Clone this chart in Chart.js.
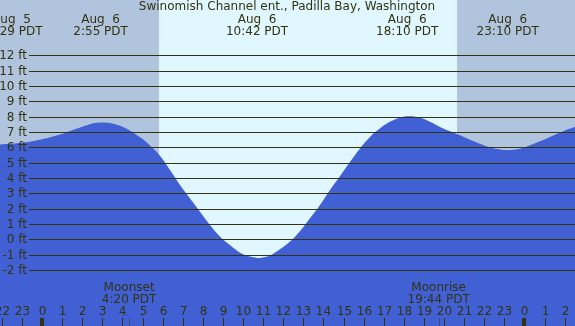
<!DOCTYPE html>
<html>
<head>
<meta charset="utf-8">
<script src="https://cdn.jsdelivr.net/npm/chart.js@4"></script>
<style>
  html, body { margin: 0; padding: 0; background: #b0c4de; overflow: hidden; }
  canvas { display: block; }
</style>
</head>
<body>
<canvas id="tide" width="575" height="326"></canvas>
<script>
// ---- tide curve (hours from Aug 6 00:00 PDT, feet) ----
const hours = [
  -2.09, -1.09, -0.10, 0.90, 1.89, 2.89, 3.88, 4.88, 5.37, 5.87,
  6.37, 6.87, 7.36, 7.86, 8.36, 8.86, 9.35, 9.85, 10.35, 10.70,
  10.85, 11.34, 11.84, 12.34, 12.84, 13.33, 13.83, 14.33, 14.83, 15.32,
  15.82, 16.32, 16.82, 17.31, 17.81, 18.31, 18.81, 19.30, 19.80, 20.30,
  20.80, 21.29, 21.79, 22.29, 22.79, 23.28, 23.78, 24.28, 24.78, 25.27,
  25.77, 26.27, 26.52,
];
const heights = [
  6.19, 6.28, 6.50, 6.84, 7.30, 7.62, 7.40, 6.65, 6.12, 5.45,
  4.52, 3.54, 2.67, 1.80, 0.93, 0.17, -0.37, -0.87, -1.13, -1.22,
  -1.22, -1.05, -0.65, -0.15, 0.54, 1.37, 2.24, 3.22, 4.13, 5.04,
  5.93, 6.68, 7.24, 7.66, 7.95, 8.03, 7.93, 7.67, 7.33, 7.05,
  6.78, 6.50, 6.24, 6.00, 5.85, 5.82, 5.90, 6.13, 6.39, 6.67,
  6.96, 7.22, 7.35,
];

// high / low labels along the top
const eventHours = [-1.52, 2.917, 10.70, 18.167, 23.167];
const eventDates = ['Aug  5', 'Aug  6', 'Aug  6', 'Aug  6', 'Aug  6'];
const eventTimes = ['22:29 PDT', '2:55 PDT', '10:42 PDT', '18:10 PDT', '23:10 PDT'];

// moon events along the bottom
const moonHours = [4.333, 19.733];
const moonNames = ['Moonset', 'Moonrise'];
const moonTimes = ['4:20 PDT', '19:44 PDT'];

// daylight window
const sunrise = 5.82;
const sunset = 20.65;

// axis ticks
const footTicks = [12, 11, 10, 9, 8, 7, 6, 5, 4, 3, 2, 1, 0, -1, -2];
const hourTicks = [];
for (let h = -2; h <= 26; h++) hourTicks.push(h);

const TITLE = 'Swinomish Channel ent., Padilla Bay, Washington';
const INK = '#333311';
const FONT = '12px "DejaVu Sans", Verdana, sans-serif';

const tideDecor = {
  id: 'tideDecor',
  beforeDatasetsDraw(chart) {
    const { ctx, chartArea: a, scales: { x } } = chart;
    ctx.save();
    ctx.fillStyle = '#b0c4de';
    ctx.fillRect(a.left, a.top, a.right - a.left, a.bottom - a.top);
    const x0 = Math.round(x.getPixelForValue(sunrise));
    const x1 = Math.round(x.getPixelForValue(sunset));
    ctx.fillStyle = '#e0f7ff';
    ctx.fillRect(x0, a.top, x1 - x0, a.bottom - a.top);
    ctx.restore();
  },
  afterDatasetsDraw(chart) {
    const { ctx, chartArea: a, scales: { x, y } } = chart;
    ctx.save();
    ctx.font = FONT;
    ctx.fillStyle = INK;
    ctx.strokeStyle = INK;

    // foot lines + labels
    ctx.lineWidth = 1;
    ctx.textAlign = 'right';
    ctx.textBaseline = 'middle';
    footTicks.forEach(v => {
      const py = Math.round(y.getPixelForValue(v)) + 0.5;
      ctx.beginPath();
      ctx.moveTo(29, py);
      ctx.lineTo(a.right, py);
      ctx.stroke();
      ctx.fillText(v + ' ft', 27, py);
    });

    // title + tide extremes
    ctx.textAlign = 'center';
    ctx.fillText(TITLE, 287, 7);
    eventHours.forEach((h, i) => {
      const px = x.getPixelForValue(h);
      ctx.fillText(eventDates[i], px, 19.5);
      ctx.fillText(eventTimes[i], px, 31.5);
    });

    // moon events
    moonHours.forEach((h, i) => {
      const px = x.getPixelForValue(h);
      ctx.fillText(moonNames[i], px, 287.5);
      ctx.fillText(moonTimes[i], px, 299.5);
      ctx.fillStyle = 'rgba(51,51,17,0.45)';
      ctx.fillRect(Math.round(px), 318, 1, a.bottom - 318);
      ctx.fillStyle = INK;
    });

    // hour labels + ticks
    hourTicks.forEach(h => {
      const px = Math.round(x.getPixelForValue(h));
      ctx.fillText(String(((h % 24) + 24) % 24), px + 0.5, 311.5);
      if (h % 24 === 0) ctx.fillRect(px - 2, 318, 4, a.bottom - 318);
      else ctx.fillRect(px, 318, 1, a.bottom - 318);
    });
    ctx.restore();
  },
};

new Chart(document.getElementById('tide').getContext('2d'), {
  type: 'line',
  data: {
    datasets: [{
      data: hours.map((h, i) => ({ x: h, y: heights[i] })),
      fill: 'start',
      backgroundColor: '#4160d4',
      borderWidth: 0,
      pointRadius: 0,
      tension: 0.4,
    }],
  },
  plugins: [tideDecor],
  options: {
    responsive: false,
    animation: false,
    devicePixelRatio: 1,
    layout: { padding: 0 },
    plugins: { legend: { display: false }, tooltip: { enabled: false } },
    scales: {
      x: { type: 'linear', min: -2.09, max: 26.517, display: false },
      y: { min: -5.656, max: 15.61, display: false },
    },
  },
});
</script>
</body>
</html>
